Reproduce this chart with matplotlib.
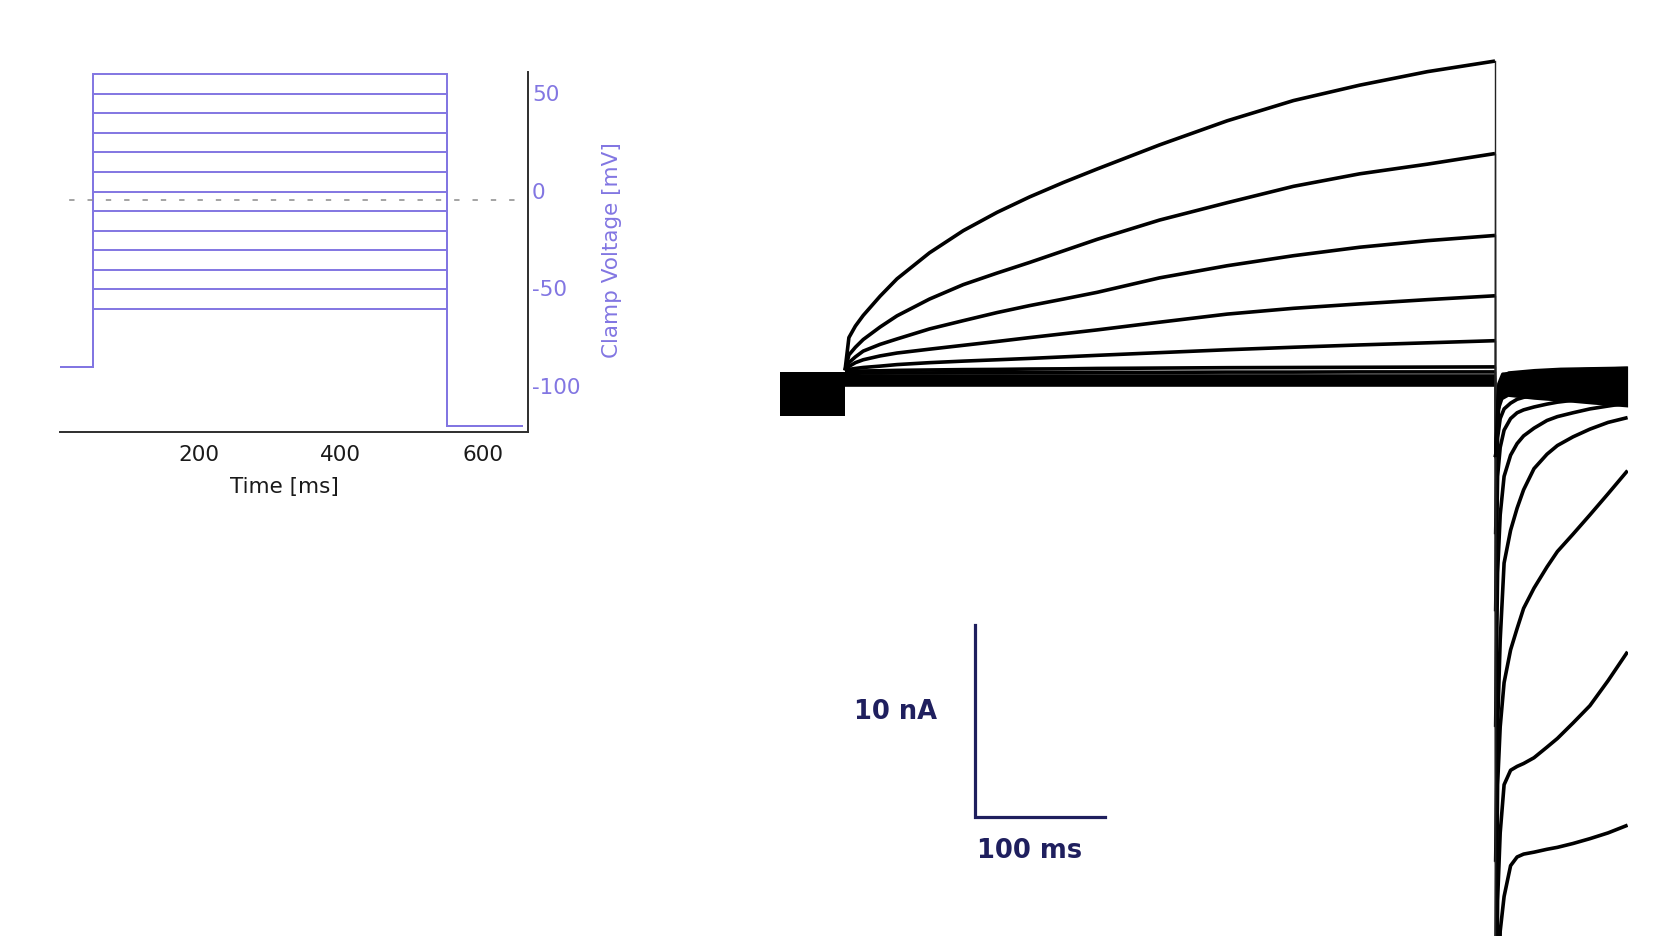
import matplotlib.pyplot as plt

plt.rcParams['font.family'] = 'DejaVu Sans'
plt.rcParams['axes.unicode_minus'] = False

# --- voltage protocol (mV / ms) ---
step_levels = [-60, -50, -40, -30, -20, -10, 0, 10, 20, 30, 40, 50, 60]
holding_mv = -90
tail_mv = -120
step_on_ms = 50
step_off_ms = 550
sweep_end_ms = 655
zero_ref_mv = -4.5
v_ticks = [50, 0, -50, -100]
t_ticks = [200, 400, 600]

# --- recorded currents (nA) ---
# holding period: noisy band between these limits
hold_t = [0, 50]
hold_top = [0.4, 0.4]
hold_bottom = [-1.85, -1.85]

# activating steps, sampled at step_t
step_t = [50, 53, 58, 64, 77, 90, 115, 141, 167, 192, 218, 244, 292, 344, 395, 446, 498, 550]
step_p60 = [0.5, 2.2, 2.8, 3.35, 4.35, 5.25, 6.6, 7.75, 8.7, 9.5, 10.25, 10.95, 12.2, 13.45, 14.5, 15.3, 16.0, 16.55]
step_p50 = [0.5, 1.3, 1.7, 2.1, 2.75, 3.33, 4.2, 4.95, 5.55, 6.1, 6.7, 7.3, 8.3, 9.2, 10.05, 10.7, 11.2, 11.75]
step_p40 = [0.5, 0.9, 1.2, 1.5, 1.85, 2.13, 2.65, 3.08, 3.5, 3.86, 4.2, 4.55, 5.3, 5.93, 6.45, 6.89, 7.23, 7.5]
step_p30 = [0.5, 0.7, 0.9, 1.05, 1.25, 1.4, 1.6, 1.8, 2.0, 2.2, 2.4, 2.6, 3.0, 3.42, 3.72, 3.95, 4.17, 4.37]
step_p20 = [0.5, 0.55, 0.6, 0.65, 0.72, 0.8, 0.9, 0.98, 1.05, 1.12, 1.2, 1.28, 1.42, 1.57, 1.7, 1.82, 1.93, 2.04]
step_p10 = [0.45, 0.45, 0.46, 0.47, 0.48, 0.5, 0.52, 0.54, 0.55, 0.57, 0.58, 0.6, 0.62, 0.64, 0.65, 0.66, 0.67, 0.68]
step_0 = [0.35, 0.35, 0.35, 0.36, 0.36, 0.37, 0.37, 0.38, 0.38, 0.39, 0.39, 0.4, 0.4, 0.41, 0.41, 0.42, 0.42, 0.42]
# non-activating steps (-60 ... -10 mV): flat
flat_step_t = [50, 550]
flat_step_levels = [-0.25, -0.18, -0.1, 0.0, 0.1, 0.2]

# tail currents at -120 mV
tail_t = [550.5, 552, 554, 557, 562, 567, 572, 580, 590, 598, 610, 623, 637, 652]
tail_p60 = [-45, -35, -28.6, -26.8, -25.2, -24.75, -24.6, -24.5, -24.35, -24.25, -24.05, -23.8, -23.5, -23.1]
tail_p50 = [-40, -27, -23.5, -21.0, -20.25, -20.05, -19.9, -19.6, -19.05, -18.6, -17.8, -16.9, -15.6, -14.1]
tail_p40 = [-32, -21, -18.0, -15.7, -14.0, -12.9, -11.85, -10.8, -9.7, -8.9, -8.0, -7.0, -5.9, -4.7]
tail_p30 = [-25, -18, -13.5, -9.5, -7.8, -6.65, -5.7, -4.6, -3.85, -3.4, -2.95, -2.55, -2.2, -1.95]
tail_p20 = [-18, -10, -7.0, -5.0, -3.9, -3.3, -2.9, -2.5, -2.1, -1.9, -1.7, -1.5, -1.35, -1.2]
tail_p10 = [-12, -5, -3.5, -2.6, -2.0, -1.7, -1.55, -1.4, -1.25, -1.15, -1.05, -0.95, -0.9, -0.85]
tail_0 = [-8, -3, -2.0, -1.5, -1.2, -1.0, -0.9, -0.8, -0.72, -0.68, -0.64, -0.6, -0.57, -0.55]
flat_tail_t = [550.5, 553, 556, 600, 652]
tail_m60 = [-4.0, -1.2, -0.7, -0.45, -0.35]
tail_m50 = [-4.0, -1.0, -0.5, -0.25, -0.15]
tail_m40 = [-4.0, -0.8, -0.3, -0.05, 0.05]
tail_m30 = [-4.0, -0.6, -0.1, 0.15, 0.25]
tail_m20 = [-4.0, -0.4, 0.1, 0.35, 0.45]
tail_m10 = [-4.0, -0.2, 0.3, 0.5, 0.6]
# noise envelope of the overlapping small tails
tail_band_t = [553, 556, 560, 580, 600, 625, 652]
tail_band_top = [0.0, 0.35, 0.48, 0.6, 0.67, 0.7, 0.73]
tail_band_bottom = [-1.6, -1.0, -0.85, -1.0, -1.1, -1.25, -1.4]

# scale bar
bar_t0, bar_ms = 150, 100
bar_i0, bar_na = -22.7, 10

PURPLE = '#8276e2'
NAVY = '#1f1f5e'

fig = plt.figure(figsize=(16.79, 9.37), dpi=100)

# ---------------- protocol inset ----------------
ax = fig.add_axes([0.0357, 0.5383, 0.2787, 0.3840])
for v in step_levels:
    ax.plot([0, step_on_ms, step_on_ms, step_off_ms, step_off_ms, sweep_end_ms],
            [holding_mv, holding_mv, v, v, tail_mv, tail_mv],
            color=PURPLE, lw=1.4, solid_joinstyle='miter')
ax.axhline(zero_ref_mv, color='#8a8a8a', lw=1.1, ls=(6, (3.5, 8.5)))
ax.set_xlim(3.7, 663.8)
ax.set_ylim(-122.9, 61.3)
for s in ['left', 'top']:
    ax.spines[s].set_visible(False)
for s in ['right', 'bottom']:
    ax.spines[s].set_color('#2e2e2e')
    ax.spines[s].set_linewidth(1.4)
ax.yaxis.tick_right()
ax.set_yticks(v_ticks)
ax.set_xticks(t_ticks)
ax.tick_params(axis='y', length=0, pad=3, labelsize=15.5, labelcolor=PURPLE)
ax.tick_params(axis='x', length=0, pad=9, labelsize=15.5, labelcolor='#1a1a1a')
for lab in ax.get_yticklabels():
    lab.set_verticalalignment('center')
fig.text(284.8 / 1679, 1 - 487.2 / 937, 'Time [ms]', ha='center', va='center',
         fontsize=15.5, color='#1a1a1a')
fig.text(611.7 / 1679, 1 - 250 / 937, 'Clamp Voltage [mV]', ha='center', va='center',
         rotation=90, fontsize=15.5, color=PURPLE)

# ---------------- current traces ----------------
ax2 = fig.add_axes([0.46218, 0.0, 0.50720, 1.0])
ax2.set_xlim(-3.08, 652.0)
ax2.set_ylim(-28.85, 19.77)
ax2.axis('off')

TR = dict(color='black', lw=2.6, solid_capstyle='butt')

ax2.fill_between(hold_t, hold_bottom, hold_top, color='black', lw=0)
ax2.fill_between(tail_band_t, tail_band_bottom, tail_band_top, color='black', lw=0)

for lvl in flat_step_levels:
    ax2.plot(flat_step_t, [lvl, lvl], **TR)

step_traces = [step_0, step_p10, step_p20, step_p30, step_p40, step_p50, step_p60]
tail_traces = [tail_0, tail_p10, tail_p20, tail_p30, tail_p40, tail_p50, tail_p60]
for i_step, i_tail in zip(step_traces, tail_traces):
    ax2.plot(step_t, i_step, **TR)
    ax2.plot([step_off_ms, step_off_ms], [i_step[-1], i_tail[0]], color='#222222', lw=1.0)
    ax2.plot(tail_t, i_tail, **TR)

for lvl, i_tail in zip(flat_step_levels, [tail_m60, tail_m50, tail_m40, tail_m30, tail_m20, tail_m10]):
    ax2.plot([step_off_ms, step_off_ms], [lvl, i_tail[0]], color='#222222', lw=1.0)
    ax2.plot(flat_tail_t, i_tail, **TR)

# scale bar
ax2.plot([bar_t0, bar_t0, bar_t0 + bar_ms], [bar_i0 + bar_na, bar_i0, bar_i0],
         color=NAVY, lw=2.3, solid_joinstyle='miter')
ax2.text(bar_t0 - 61.4, bar_i0 + bar_na / 2 + 0.55, f'{bar_na} nA', ha='center', va='center',
         fontsize=18.5, fontweight='bold', color=NAVY)
ax2.text(bar_t0 + 42.3, bar_i0 - 1.7, f'{bar_ms} ms', ha='center', va='center',
         fontsize=18.5, fontweight='bold', color=NAVY)

fig.savefig('out.png', dpi=100, facecolor='white')
